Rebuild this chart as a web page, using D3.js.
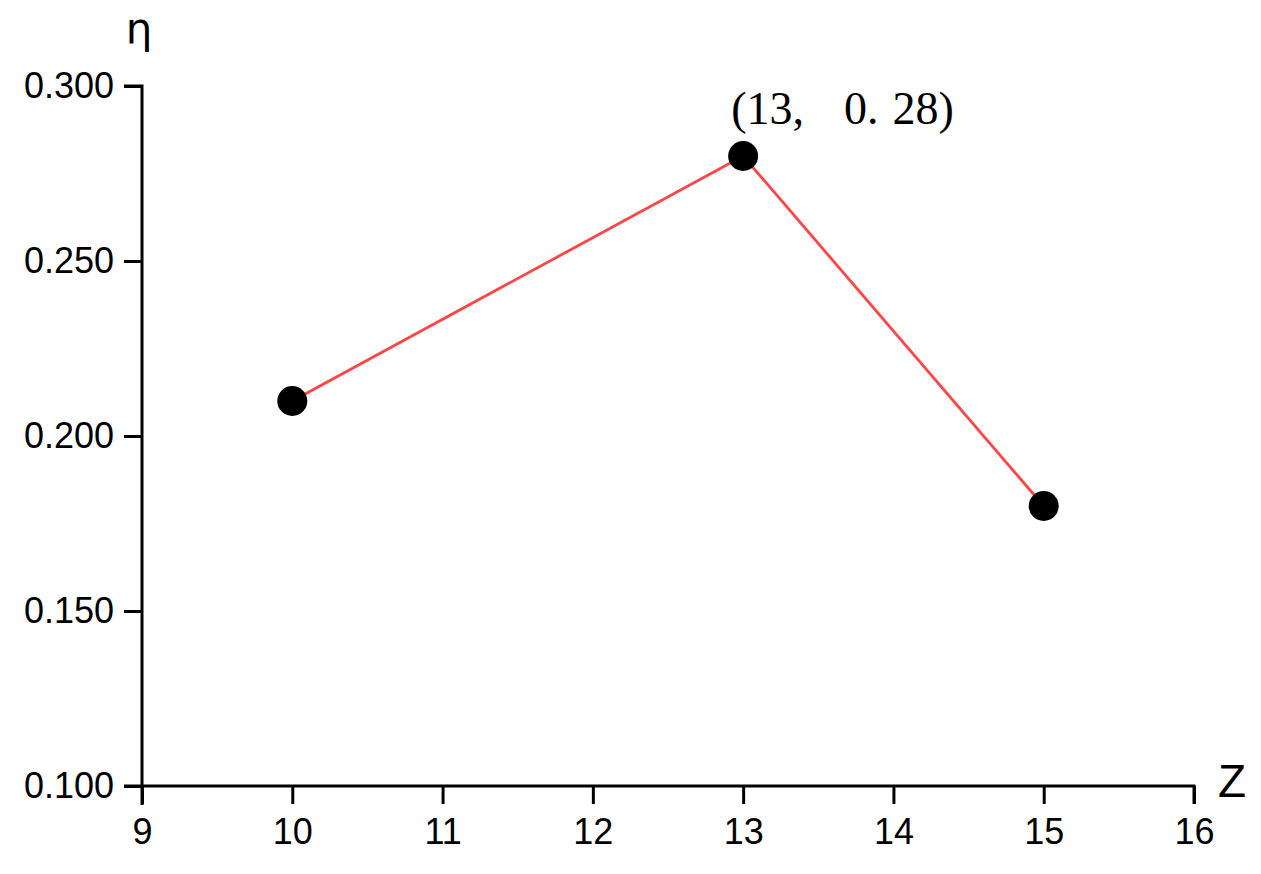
<!DOCTYPE html>
<html>
<head>
<meta charset="utf-8">
<script src="https://cdn.jsdelivr.net/npm/d3@7"></script>
<style>
  body { margin: 0; background: #fff; }
  svg { display: block; }
</style>
</head>
<body>
<svg id="chart" width="1261" height="874"></svg>
<script>
// data
var zValues = [10, 13, 15];
var etaValues = [0.21, 0.28, 0.18];
var xTicks = [9, 10, 11, 12, 13, 14, 15, 16];
var yTicks = [0.100, 0.150, 0.200, 0.250, 0.300];
var peakParts = ["(13,", "0.", "28)"];

var svg = d3.select("#chart");
var plotLeft = 142, plotRight = 1194, plotTop = 86, plotBottom = 786;

var x = d3.scaleLinear().domain([9, 16]).range([plotLeft, plotRight]);
var y = d3.scaleLinear().domain([0.1, 0.3]).range([plotBottom, plotTop]);

var xAxis = svg.append("g")
    .attr("transform", "translate(0," + plotBottom + ")")
    .call(d3.axisBottom(x).tickValues(xTicks).tickFormat(d3.format("d")).tickSize(18).tickSizeOuter(0).tickPadding(14));
var yAxis = svg.append("g")
    .attr("transform", "translate(" + plotLeft + ",0)")
    .call(d3.axisLeft(y).tickValues(yTicks).tickFormat(d3.format(".3f")).tickSize(18).tickSizeOuter(0).tickPadding(10));

[xAxis, yAxis].forEach(function (g) {
    g.selectAll("path.domain").attr("stroke", "#000").attr("stroke-width", 3);
    g.selectAll(".tick line").attr("stroke", "#000").attr("stroke-width", 3);
    g.selectAll(".tick text")
        .attr("fill", "#000")
        .style("font-family", "Liberation Sans, Arial, sans-serif")
        .style("font-size", "36px");
});
xAxis.select("path.domain").attr("d", "M" + (plotLeft - 18) + ",0H" + plotRight + "V18");
yAxis.select("path.domain").attr("d", "M-18," + plotTop + "H0V" + (plotBottom + 19));

// line
var pts = zValues.map(function (z, i) { return [z, etaValues[i]]; });
svg.append("path")
    .datum(pts)
    .attr("fill", "none")
    .attr("stroke", "#ff4545")
    .attr("stroke-width", 2.8)
    .attr("d", d3.line().x(function (d) { return x(d[0]); }).y(function (d) { return y(d[1]); }));

svg.selectAll("circle.pt")
    .data(pts)
    .enter().append("circle")
    .attr("class", "pt")
    .attr("cx", function (d) { return x(d[0]); })
    .attr("cy", function (d) { return y(d[1]); })
    .attr("r", 15)
    .attr("fill", "#000");

// peak annotation
var ann = svg.append("text")
    .attr("x", x(13) - 12)
    .attr("y", y(0.28) - 32)
    .style("font-family", "Liberation Serif, DejaVu Serif, serif")
    .style("font-size", "46px")
    .attr("fill", "#000");
var gaps = [0, 40, 14];
peakParts.forEach(function (p, i) {
    ann.append("tspan").attr("dx", gaps[i]).text(p);
});

// axis titles
svg.append("text")
    .attr("x", 139)
    .attr("y", 43)
    .attr("text-anchor", "middle")
    .style("font-family", "DejaVu Sans, sans-serif")
    .style("font-size", "42px")
    .text("η");
svg.append("text")
    .attr("x", 1218)
    .attr("y", 797)
    .style("font-family", "Liberation Sans, Arial, sans-serif")
    .style("font-size", "46px")
    .text("Z");
</script>
</body>
</html>
